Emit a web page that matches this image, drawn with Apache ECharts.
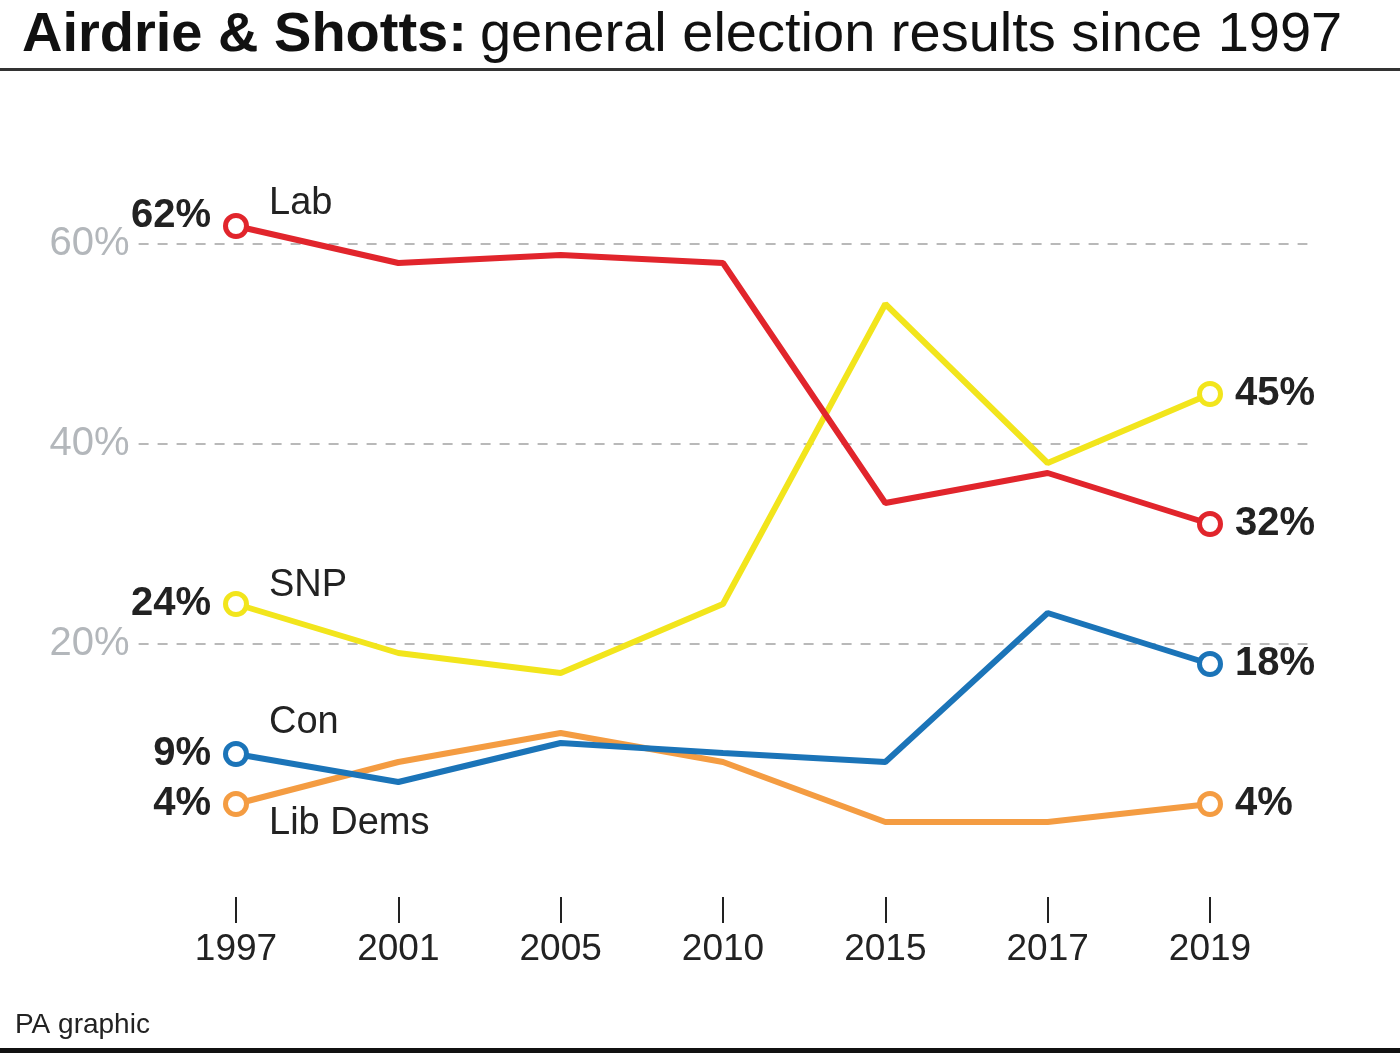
<!DOCTYPE html>
<html>
<head>
<meta charset="utf-8">
<style>
  html, body { margin: 0; padding: 0; background: #ffffff; }
  #chart { width: 1400px; height: 1053px; }
</style>
<script src="https://cdn.jsdelivr.net/npm/echarts@6/dist/echarts.min.js"></script>
</head>
<body>
<div id="chart"></div>
<script>
// ---- Data ----
var years = ['1997', '2001', '2005', '2010', '2015', '2017', '2019'];
var lab = [61.8, 58.1, 58.9, 58.1, 34.1, 37.1, 32.0];
var snp = [24.0, 19.1, 17.1, 24.0, 54.0, 38.1, 45.0];
var con = [9.0, 6.2, 10.1, 9.1, 8.2, 23.1, 18.0];
var libDems = [4.0, 8.2, 11.1, 8.2, 2.2, 2.2, 4.0];
var yTicks = [20, 40, 60];
var partyNames = ['Lab', 'SNP', 'Con', 'Lib Dems'];
var startLabels = ['62%', '24%', '9%', '4%'];
var endLabels = ['32%', '45%', '18%', '4%'];

var FONT = '"Liberation Sans", Arial, Helvetica, sans-serif';
var colors = ['#e1252c', '#f2e51c', '#1b74b8', '#f49c42'];
var nameOffsets = [-22, -18, -31, 20];
var startValueOffsets = [-10, 0, 0, 0];
var allSeries = [lab, snp, con, libDems];

var chart = echarts.init(document.getElementById('chart'));

function buildSeries(idx) {
  var vals = allSeries[idx];
  var last = vals.length - 1;
  var data = vals.map(function (v, i) {
    var item = { value: [i, v] };
    if (i === 0) {
      item.symbol = 'circle';
      item.label = {
        show: true, position: 'left', distance: 12,
        formatter: startLabels[idx], offset: [0, startValueOffsets[idx]],
        fontFamily: FONT, fontWeight: 'bold', fontSize: 40, color: '#222222'
      };
    } else if (i === last) {
      item.symbol = 'circle';
      item.label = {
        show: true, position: 'right', distance: 12,
        formatter: endLabels[idx],
        fontFamily: FONT, fontWeight: 'bold', fontSize: 40, color: '#222222'
      };
    } else {
      item.symbol = 'none';
    }
    return item;
  });
  var s = {
    name: partyNames[idx],
    type: 'line',
    data: data,
    symbolSize: 21,
    showAllSymbol: true,
    z: 10 - idx,
    lineStyle: { color: colors[idx], width: 6 },
    itemStyle: { color: '#ffffff', borderColor: colors[idx], borderWidth: 5 },
    emphasis: { disabled: true },
    animation: false,
    markPoint: {
      symbol: 'circle', symbolSize: 0, silent: true, animation: false,
      data: [{
        coord: [0, vals[0]],
        label: {
          show: true, position: 'right', distance: 33,
          offset: [0, nameOffsets[idx]],
          formatter: partyNames[idx],
          fontFamily: FONT, fontSize: 38, color: '#222222'
        }
      }]
    }
  };
  if (idx === 0) {
    s.markLine = {
      silent: true, symbol: 'none', animation: false,
      label: { show: false },
      lineStyle: { color: '#b9b9b9', type: [10, 9], width: 2 },
      data: yTicks.map(function (t) { return { yAxis: t }; }),
      z: 1
    };
  }
  return s;
}

var option = {
  backgroundColor: '#ffffff',
  animation: false,
  title: {
    text: '{b|Airdrie & Shotts:}{r|general election results since 1997}',
    left: 17, top: 3,
    textStyle: {
      rich: {
        b: { fontFamily: FONT, fontWeight: 'bold', fontSize: 56, color: '#111111' },
        r: { fontFamily: FONT, fontWeight: 'normal', fontSize: 56, color: '#111111', padding: [0, 0, 0, 13] }
      }
    }
  },
  grid: { left: 138.6, right: 92.6, top: 44, bottom: 156, containLabel: false },
  xAxis: {
    type: 'value', min: -0.6, max: 6.6,
    position: 'bottom',
    axisLine: { show: false, onZero: false },
    splitLine: { show: false },
    axisTick: {
      show: true, length: 26, inside: false,
      customValues: [0, 1, 2, 3, 4, 5, 6],
      lineStyle: { color: '#222222', width: 2 }
    },
    axisLabel: {
      show: true, margin: 34,
      customValues: [0, 1, 2, 3, 4, 5, 6],
      formatter: function (v) { return years[Math.round(v)]; },
      fontFamily: FONT, fontSize: 37, color: '#222222'
    }
  },
  yAxis: {
    type: 'value', min: -5.3, max: 80,
    axisLine: { show: false },
    axisTick: { show: false },
    splitLine: { show: false },
    axisLabel: {
      show: true, margin: 9,
      customValues: yTicks,
      formatter: '{value}%',
      fontFamily: FONT, fontSize: 40, color: '#b3b7bb'
    }
  },
  graphic: [
    { type: 'rect', left: 0, top: 68, shape: { width: 1400, height: 3 }, style: { fill: '#333333' } },
    { type: 'rect', left: 0, top: 1048, shape: { width: 1400, height: 5 }, style: { fill: '#111111' } },
    { type: 'text', left: 15, top: 1011, style: { text: 'PA graphic', font: '28px ' + FONT, fill: '#222222' } }
  ],
  series: [buildSeries(3), buildSeries(2), buildSeries(1), buildSeries(0)]
};

chart.setOption(option);
</script>
</body>
</html>
